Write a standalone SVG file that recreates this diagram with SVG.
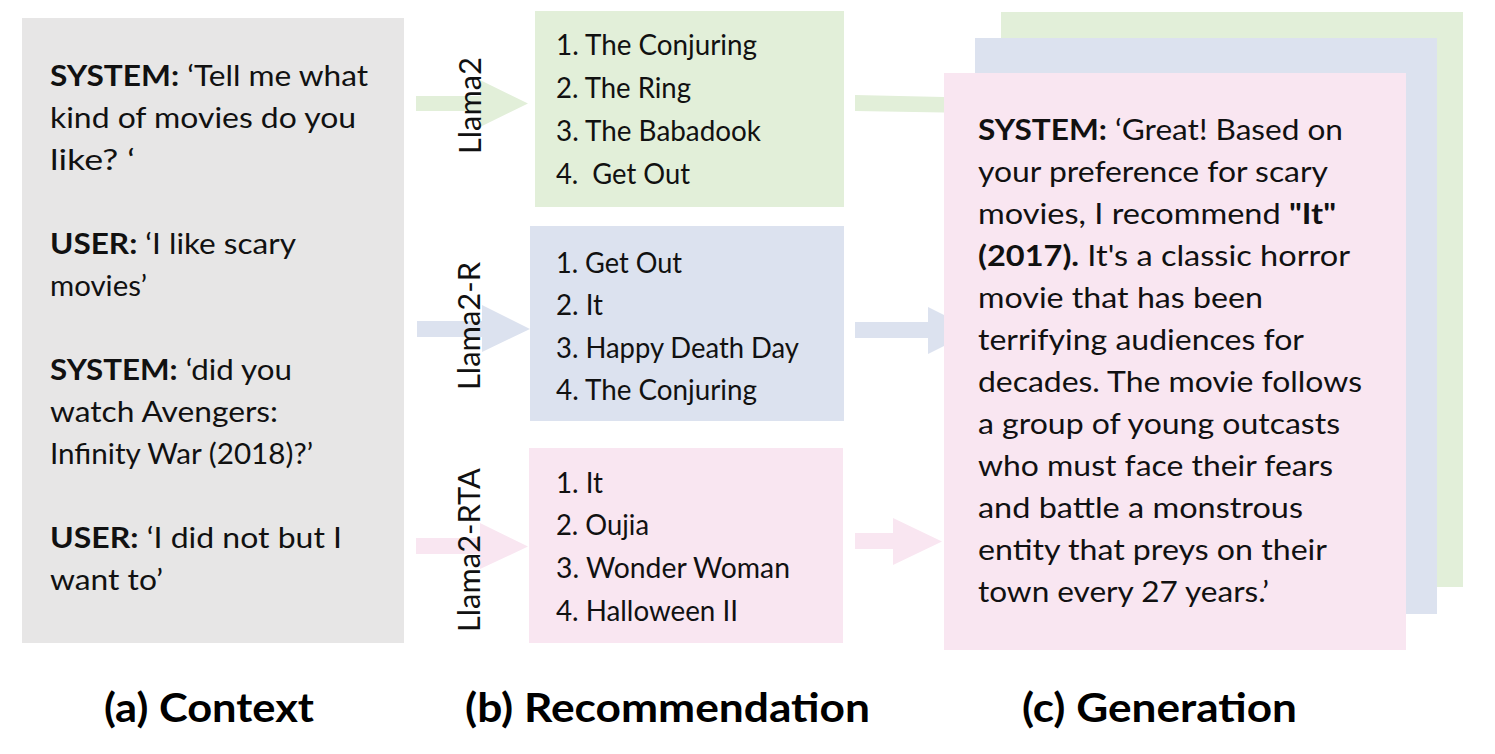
<svg xmlns="http://www.w3.org/2000/svg" width="1495" height="754" viewBox="0 0 1495 754">
<defs>
<style>
.t{font-family:Lato,"Liberation Sans",sans-serif;font-size:29px;fill:#111;}
.b{font-weight:bold;}
.cap{font-family:Lato,"Liberation Sans",sans-serif;font-size:40px;font-weight:bold;fill:#000;}
.lab{font-family:Lato,"Liberation Sans",sans-serif;font-size:31px;fill:#111;}
.gray{fill:#e7e6e6;}
.green{fill:#e2efd9;}
.blue{fill:#dce2ef;}
.pink{fill:#f9e6f1;}
</style>
</defs>
<rect width="1495" height="754" fill="#ffffff"/>

<g id="context">
<rect class="gray" x="22" y="18" width="382" height="625"/>
<text class="t" x="50" y="86" textLength="318" lengthAdjust="spacingAndGlyphs"><tspan class="b">SYSTEM:</tspan> ‘Tell me what</text>
<text class="t" x="50" y="128" textLength="306" lengthAdjust="spacingAndGlyphs">kind of movies do you</text>
<text class="t" x="50" y="170" textLength="85" lengthAdjust="spacingAndGlyphs">like? ‘</text>
<text class="t" x="50" y="254" textLength="246" lengthAdjust="spacingAndGlyphs"><tspan class="b">USER:</tspan> ‘I like scary</text>
<text class="t" x="50" y="296" textLength="97" lengthAdjust="spacingAndGlyphs">movies’</text>
<text class="t" x="50" y="380" textLength="242" lengthAdjust="spacingAndGlyphs"><tspan class="b">SYSTEM:</tspan> ‘did you</text>
<text class="t" x="50" y="422" textLength="228" lengthAdjust="spacingAndGlyphs">watch Avengers:</text>
<text class="t" x="50" y="464" textLength="263" lengthAdjust="spacingAndGlyphs">Infinity War (2018)?’</text>
<text class="t" x="50" y="548" textLength="292" lengthAdjust="spacingAndGlyphs"><tspan class="b">USER:</tspan> ‘I did not but I</text>
<text class="t" x="50" y="590" textLength="113" lengthAdjust="spacingAndGlyphs">want to’</text>
</g>

<g id="generation">
<rect class="green" x="1001" y="12" width="462" height="575"/>
<rect class="blue" x="975" y="38" width="462" height="576"/>
<rect class="pink" x="944" y="73" width="462" height="577"/>
<text class="t" x="978" y="140" textLength="365" lengthAdjust="spacingAndGlyphs"><tspan class="b">SYSTEM:</tspan> ‘Great! Based on</text>
<text class="t" x="978" y="182" textLength="350" lengthAdjust="spacingAndGlyphs">your preference for scary</text>
<text class="t" x="978" y="224" textLength="358" lengthAdjust="spacingAndGlyphs">movies, I recommend <tspan class="b">"It"</tspan></text>
<text class="t" x="978" y="266" textLength="372" lengthAdjust="spacingAndGlyphs"><tspan class="b">(2017).</tspan> It's a classic horror</text>
<text class="t" x="978" y="308" textLength="285" lengthAdjust="spacingAndGlyphs">movie that has been</text>
<text class="t" x="978" y="350" textLength="326" lengthAdjust="spacingAndGlyphs">terrifying audiences for</text>
<text class="t" x="978" y="392" textLength="384" lengthAdjust="spacingAndGlyphs">decades. The movie follows</text>
<text class="t" x="978" y="434" textLength="362" lengthAdjust="spacingAndGlyphs">a group of young outcasts</text>
<text class="t" x="978" y="476" textLength="355" lengthAdjust="spacingAndGlyphs">who must face their fears</text>
<text class="t" x="978" y="518" textLength="325" lengthAdjust="spacingAndGlyphs">and battle a monstrous</text>
<text class="t" x="978" y="560" textLength="349" lengthAdjust="spacingAndGlyphs">entity that preys on their</text>
<text class="t" x="978" y="602" textLength="291" lengthAdjust="spacingAndGlyphs">town every 27 years.’</text>
</g>

<g id="connectors">
<polygon class="green" points="416,96 480,96 480,80 528,103.5 480,127 480,111 416,111"/>
<polygon class="blue" points="417,321 482,321 482,305 530,329 482,352 482,337 417,337"/>
<polygon class="pink" points="416,538 480,538 480,523 528,546.5 480,569 480,554 416,554"/>
<polygon class="green" points="855,95 944,97 944,112.5 855,111"/>
<polygon class="blue" points="855,322 928,322 928,307 944,315 944,346 928,354 928,338 855,338"/>
<polygon class="pink" points="855,533 893,533 893,518 942,541.5 893,565 893,549 855,549"/>
</g>

<g id="llama2">
<rect class="green" x="535" y="11" width="309" height="196"/>
<text class="t" x="556" y="55" textLength="201" lengthAdjust="spacingAndGlyphs">1. The Conjuring</text>
<text class="t" x="556" y="98" textLength="135" lengthAdjust="spacingAndGlyphs">2. The Ring</text>
<text class="t" x="556" y="141" textLength="205" lengthAdjust="spacingAndGlyphs">3. The Babadook</text>
<text class="t" x="556" y="184" textLength="134" lengthAdjust="spacingAndGlyphs" xml:space="preserve">4.  Get Out</text>
<text class="lab" transform="translate(481,105.5) rotate(-90)" text-anchor="middle" textLength="97" lengthAdjust="spacingAndGlyphs">Llama2</text>
</g>

<g id="llama2-r">
<rect class="blue" x="530" y="226" width="314" height="195"/>
<text class="t" x="556" y="273" textLength="126" lengthAdjust="spacingAndGlyphs">1. Get Out</text>
<text class="t" x="556" y="315" textLength="47" lengthAdjust="spacingAndGlyphs">2. It</text>
<text class="t" x="556" y="358" textLength="243" lengthAdjust="spacingAndGlyphs">3. Happy Death Day</text>
<text class="t" x="556" y="400" textLength="201" lengthAdjust="spacingAndGlyphs">4. The Conjuring</text>
<text class="lab" transform="translate(480,326) rotate(-90)" text-anchor="middle" textLength="128" lengthAdjust="spacingAndGlyphs">Llama2-R</text>
</g>

<g id="llama2-rta">
<rect class="pink" x="529" y="448" width="314" height="195"/>
<text class="t" x="556" y="493" textLength="47" lengthAdjust="spacingAndGlyphs">1. It</text>
<text class="t" x="556" y="535" textLength="93" lengthAdjust="spacingAndGlyphs">2. Oujia</text>
<text class="t" x="556" y="578" textLength="234" lengthAdjust="spacingAndGlyphs">3. Wonder Woman</text>
<text class="t" x="556" y="621" textLength="182" lengthAdjust="spacingAndGlyphs">4. Halloween II</text>
<text class="lab" transform="translate(480,550) rotate(-90)" text-anchor="middle" textLength="164" lengthAdjust="spacingAndGlyphs">Llama2-RTA</text>
</g>

<g id="captions">
<text class="cap" x="104" y="722" textLength="210" lengthAdjust="spacingAndGlyphs">(a) Context</text>
<text class="cap" x="465" y="722" textLength="405" lengthAdjust="spacingAndGlyphs">(b) Recommendation</text>
<text class="cap" x="1022" y="722" textLength="275" lengthAdjust="spacingAndGlyphs">(c) Generation</text>
</g>
</svg>
